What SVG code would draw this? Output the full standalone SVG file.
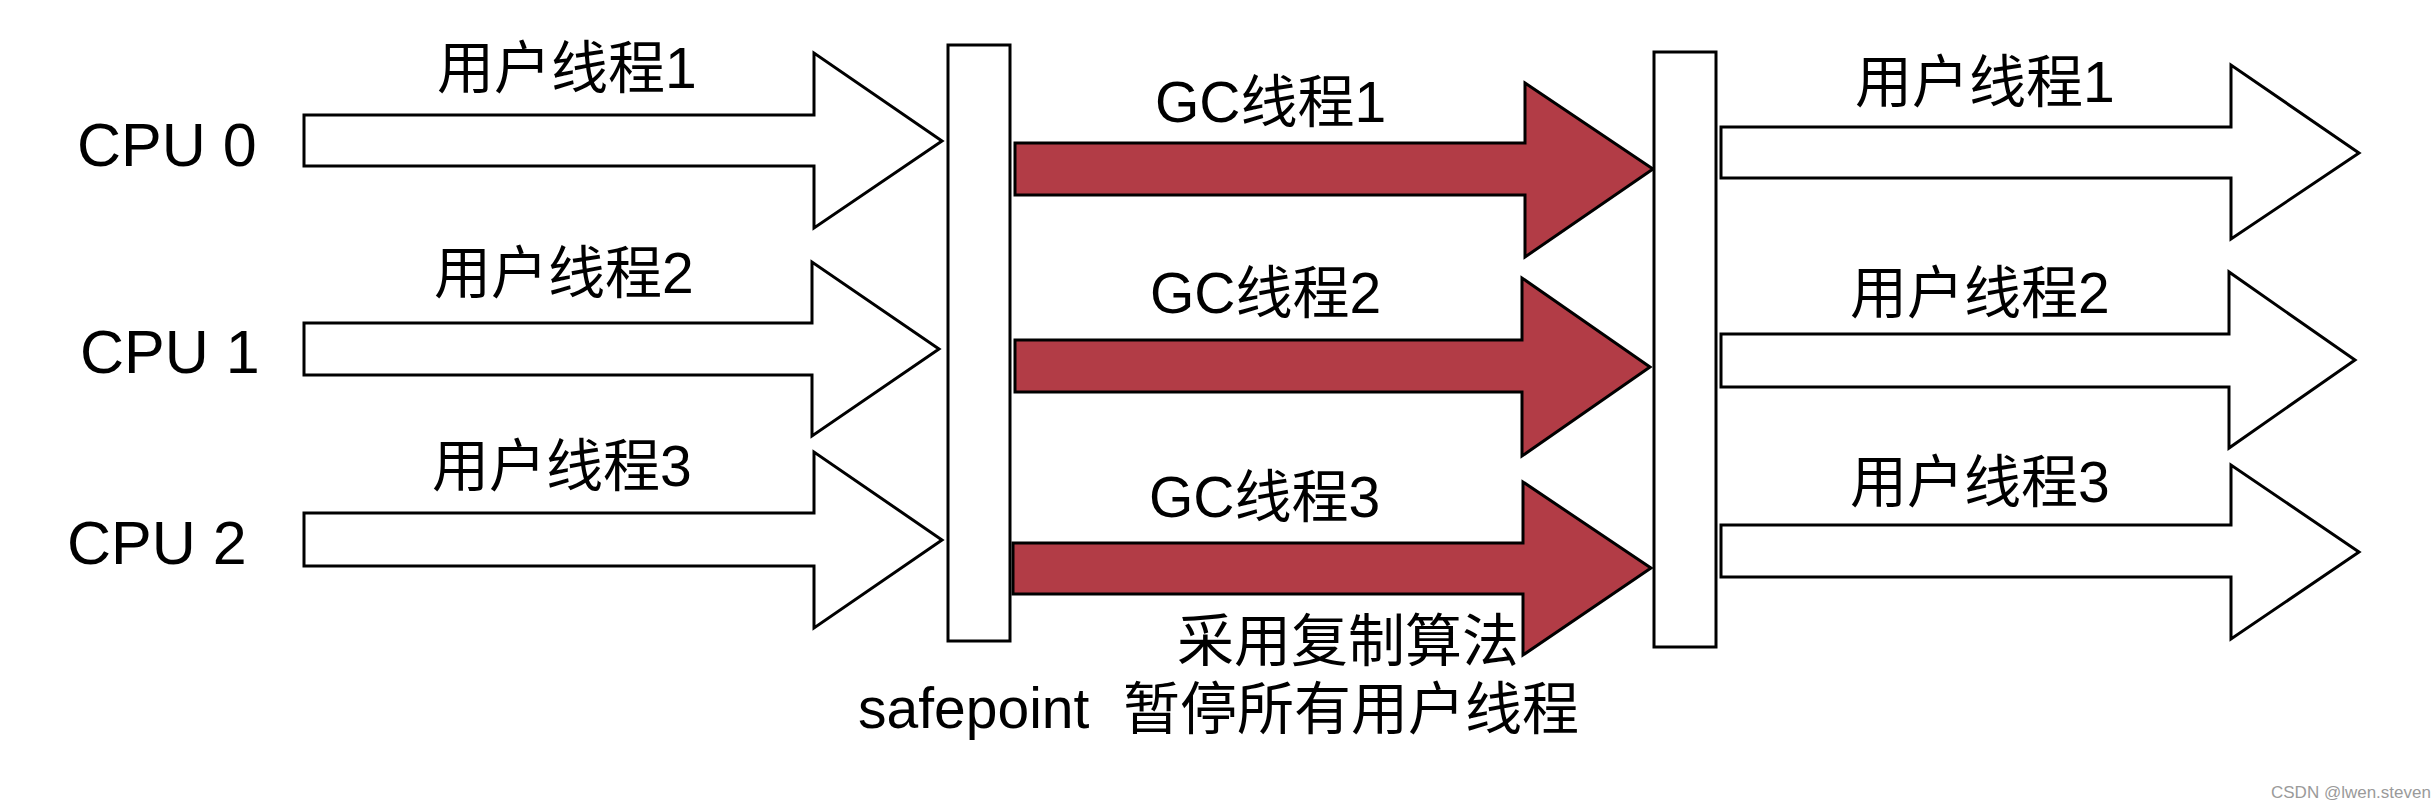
<svg xmlns="http://www.w3.org/2000/svg" width="2434" height="808" viewBox="0 0 2434 808">
<style>
  .bg { fill: #ffffff; }
  .user { fill: #ffffff; stroke: #000000; stroke-width: 3; stroke-linejoin: miter; }
  .gc { fill: #b23c46; stroke: #000000; stroke-width: 3; stroke-linejoin: miter; }
  .bar { fill: #ffffff; stroke: #000000; stroke-width: 3; }
  .t { font-family: "Liberation Sans", "Noto Sans CJK SC", sans-serif; font-size: 57px; fill: #000000; }
  .cpu { font-family: "Liberation Sans", "Noto Sans CJK SC", sans-serif; font-size: 61px; fill: #000000; }
  .wm { font-family: "Liberation Sans", "Noto Sans CJK SC", sans-serif; font-size: 17px; fill: #9a9a9a; }
</style>
<rect class="bg" x="0" y="0" width="2434" height="808"/>

<g id="cpu-labels">
  <text class="cpu" x="77" y="166">CPU 0</text>
  <text class="cpu" x="80" y="373">CPU 1</text>
  <text class="cpu" x="67" y="564">CPU 2</text>
</g>

<g id="connectors">
  <g id="user-in-1">
    <polygon class="user" points="304,115 814,115 814,53 942,141 814,228 814,166 304,166"/>
    <text class="t" x="437" y="88">用户线程1</text>
  </g>
  <g id="user-in-2">
    <polygon class="user" points="304,323 812,323 812,262 939,349 812,436 812,375 304,375"/>
    <text class="t" x="434" y="293">用户线程2</text>
  </g>
  <g id="user-in-3">
    <polygon class="user" points="304,513 814,513 814,452 942,540 814,628 814,566 304,566"/>
    <text class="t" x="432" y="486">用户线程3</text>
  </g>
  <g id="gc-1">
    <polygon class="gc" points="1015,143 1525,143 1525,83 1653,169 1525,257 1525,195 1015,195"/>
    <text class="t" x="1155" y="122">GC线程1</text>
  </g>
  <g id="gc-2">
    <polygon class="gc" points="1015,340 1522,340 1522,278 1650,367 1522,456 1522,392 1015,392"/>
    <text class="t" x="1150" y="313">GC线程2</text>
  </g>
  <g id="gc-3">
    <polygon class="gc" points="1013,543 1523,543 1523,482 1651,568 1523,655 1523,594 1013,594"/>
    <text class="t" x="1149" y="517">GC线程3</text>
  </g>
  <g id="user-out-1">
    <polygon class="user" points="1721,127 2231,127 2231,65 2359,153 2231,239 2231,178 1721,178"/>
    <text class="t" x="1855" y="102">用户线程1</text>
  </g>
  <g id="user-out-2">
    <polygon class="user" points="1721,334 2229,334 2229,272 2355,360 2229,448 2229,387 1721,387"/>
    <text class="t" x="1850" y="313">用户线程2</text>
  </g>
  <g id="user-out-3">
    <polygon class="user" points="1721,525 2231,525 2231,465 2359,552 2231,639 2231,577 1721,577"/>
    <text class="t" x="1850" y="502">用户线程3</text>
  </g>
</g>

<g id="safepoint-bar">
  <rect class="bar" x="948" y="45" width="62" height="596"/>
</g>
<g id="resume-bar">
  <rect class="bar" x="1654" y="52" width="62" height="595"/>
</g>

<g id="notes">
  <text class="t" x="1177" y="661">采用复制算法</text>
  <text class="t" x="858" y="728">safepoint</text>
  <text class="t" x="1123" y="729">暂停所有用户线程</text>
</g>

<text class="wm" x="2271" y="798">CSDN @lwen.steven</text>
</svg>
